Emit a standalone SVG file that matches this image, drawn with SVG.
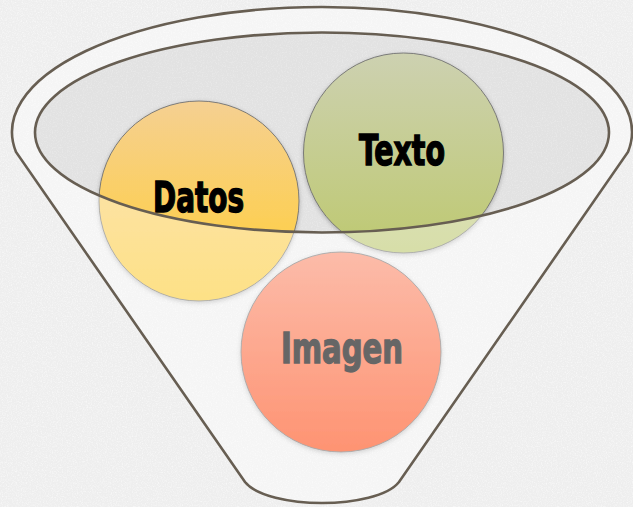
<svg xmlns="http://www.w3.org/2000/svg" width="633" height="507" viewBox="0 0 633 507">
  <defs>
    <style>
      .label { font-family: "Liberation Sans Narrow", "DejaVu Sans Condensed", "Liberation Sans", sans-serif; font-weight: bold; font-size: 42px; fill: #000; stroke: #000; stroke-width: 1.4px; text-anchor: middle; }
      .ball { stroke: #707070; stroke-width: 0.9; filter: url(#soft); }
      .rim { fill: none; stroke: #675e52; stroke-width: 2.6; }
    </style>
    <!-- light paper grain: white speckles over a pale grey base -->
    <filter id="paper" x="0" y="0" width="100%" height="100%">
      <feTurbulence type="fractalNoise" baseFrequency="0.8" numOctaves="3" seed="4" result="n"/>
      <feColorMatrix in="n" type="matrix" values="0 0 0 0 1  0 0 0 0 1  0 0 0 0 1  1.6 0 0 0 -0.7"/>
    </filter>
    <filter id="soft" x="-10%" y="-10%" width="120%" height="125%">
      <feDropShadow dx="0" dy="1.5" stdDeviation="2" flood-color="#000" flood-opacity="0.25"/>
    </filter>
    <linearGradient id="gDatos" x1="0" y1="0" x2="0" y2="1">
      <stop offset="0" stop-color="#f5d092"/>
      <stop offset="0.6" stop-color="#fccf58"/>
      <stop offset="1" stop-color="#fcce36"/>
    </linearGradient>
    <linearGradient id="gTexto" x1="0" y1="0" x2="0" y2="1">
      <stop offset="0" stop-color="#cdd1b1"/>
      <stop offset="0.85" stop-color="#c0ca7a"/>
      <stop offset="1" stop-color="#bcc96f"/>
    </linearGradient>
    <linearGradient id="gImagen" x1="0" y1="0" x2="0" y2="1">
      <stop offset="0" stop-color="#fb8f71"/>
      <stop offset="1" stop-color="#fd4c16"/>
    </linearGradient>
  </defs>

  <!-- paper background -->
  <rect width="633" height="507" fill="#eeeeee"/>
  <rect width="633" height="507" fill="#ffffff" filter="url(#paper)" opacity="0.8"/>

  <!-- funnel opening (seen inside the rim) -->
  <ellipse id="opening" cx="322" cy="132.5" rx="287" ry="100" fill="#a8a8a8" fill-opacity="0.17"/>

  <g id="datos">
    <circle class="ball" cx="199" cy="201" r="100" fill="url(#gDatos)"/>
    <text class="label" x="198.5" y="212" textLength="91" lengthAdjust="spacingAndGlyphs">Datos</text>
  </g>

  <g id="texto">
    <circle class="ball" cx="403.5" cy="153" r="100" fill="url(#gTexto)"/>
    <text class="label" x="402" y="165" textLength="86" lengthAdjust="spacingAndGlyphs">Texto</text>
  </g>

  <g id="imagen">
    <circle class="ball" cx="341" cy="352" r="100" fill="url(#gImagen)"/>
    <text class="label" x="342" y="363" textLength="122" lengthAdjust="spacingAndGlyphs">Imagen</text>
  </g>

  <!-- translucent funnel body with the opening cut out -->
  <g id="funnel">
    <path fill="#ffffff" fill-opacity="0.4" fill-rule="evenodd"
          d="M 16 152 A 310 125 0 1 1 628 152 L 399 482 C 388 496 354 503 322 503 C 290 503 256 496 245 482 Z
             M 35 132.5 A 287 100 0 1 0 609 132.5 A 287 100 0 1 0 35 132.5 Z"/>
    <path class="rim" d="M 16 152 A 310 125 0 1 1 628 152 L 399 482 C 388 496 354 503 322 503 C 290 503 256 496 245 482 Z"/>
    <ellipse class="rim" cx="322" cy="132.5" rx="287" ry="100"/>
  </g>
</svg>
